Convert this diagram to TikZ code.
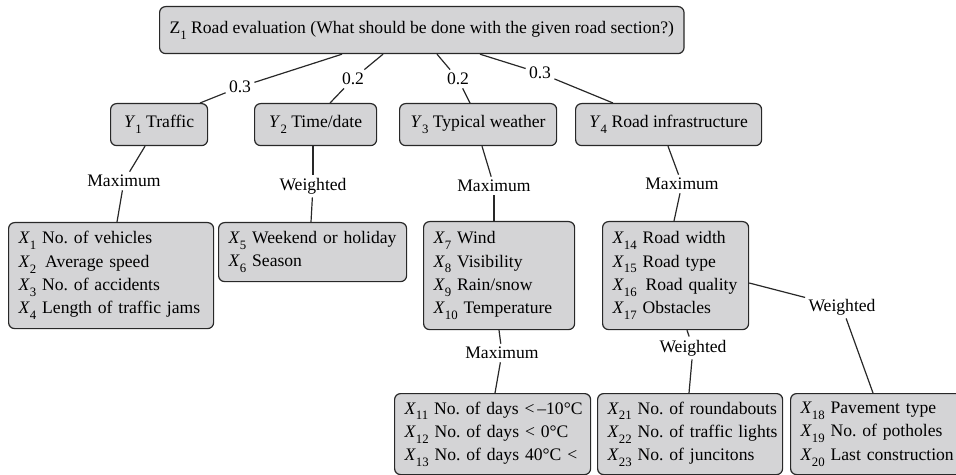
\documentclass[tikz,border=0pt]{standalone}
\usepackage{fontspec}
\setmainfont{Liberation Serif}
\usetikzlibrary{calc}
\definecolor{boxfill}{RGB}{212,212,214}
\definecolor{linec}{RGB}{40,40,40}
\newcommand\sbx[2]{\textit{#1}\raisebox{-2.9pt}{\fontsize{6.4}{7}\selectfont #2}}
\newcommand\xrow[2]{\mbox{\sbx{X}{#1} #2}}
\frenchspacing
\begin{document}
\begin{tikzpicture}[x=0.5pt,y=-0.5pt, font=\fontsize{8.8}{11.65}\selectfont,
  box/.style={draw=linec, fill=boxfill, line width=0.6pt, rounded corners=3pt, inner xsep=5pt, inner ysep=0pt, anchor=north west},
  xbox/.style={box, align=left},
  lbl/.style={inner sep=1.5pt},
  conn/.style={draw=linec, line width=0.6pt}]
\useasboundingbox (0,0) rectangle (956,475);
\clip (0,0) rectangle (956,475);
% top
\node[box, minimum width=261.5pt, minimum height=23.5pt] (z1) at (159,6)
  {Z\raisebox{-2.9pt}{\fontsize{6.4}{7}\selectfont 1} Road evaluation (What should be done with the given road section?)};
% level Y
\node[box, minimum width=48.5pt, minimum height=21pt] (y1) at (110,103) {\sbx{Y}{1} Traffic};
\node[box, minimum width=61pt, minimum height=21pt] (y2) at (254,103) {\sbx{Y}{2} Time/date};
\node[box, minimum width=78.5pt, minimum height=21pt] (y3) at (399,103) {\sbx{Y}{3} Typical weather};
\node[box, minimum width=93pt, minimum height=21pt] (y4) at (575,103) {\sbx{Y}{4} Road infrastructure};
% level X (middle)
\node[xbox, minimum width=102.5pt, text width=92.5pt, minimum height=53pt] (x1) at (8,222)
  {\xrow{1}{No. of vehicles}\\ \xrow{2}{\,Average speed}\\ \xrow{3}{No. of accidents}\\ \xrow{4}{Length of traffic jams}};
\node[xbox, minimum width=94pt, text width=84pt, minimum height=29.5pt] (x5) at (218,222)
  {\xrow{5}{Weekend or holiday}\\ \xrow{6}{Season}};
\node[xbox, minimum width=75.5pt, text width=65.5pt, minimum height=54pt] (x7) at (423,221)
  {\xrow{7}{Wind}\\ \xrow{8}{Visibility}\\ \xrow{9}{Rain/snow}\\ \xrow{10}{Temperature}};
\node[xbox, minimum width=73pt, text width=63pt, minimum height=54pt] (x14) at (602,221)
  {\xrow{14}{Road width}\\ \xrow{15}{Road type}\\ \xrow{16}{\,Road quality}\\ \xrow{17}{Obstacles}};
% level X (bottom)
\node[xbox, minimum width=98pt, text width=88pt, minimum height=40.5pt] (x11) at (394,393)
  {\xrow{11}{No. of days <\,–10°C}\\ \xrow{12}{No. of days < 0°C}\\ \xrow{13}{No. of days 40°C <}};
\node[xbox, minimum width=92.5pt, text width=82.5pt, minimum height=40.5pt] (x21) at (597,393)
  {\xrow{21}{No. of roundabouts}\\ \xrow{22}{No. of traffic lights}\\ \xrow{23}{No. of juncitons}};
\node[xbox, minimum width=95pt, text width=85pt, minimum height=40.5pt] (x18) at (790,393)
  {\xrow{18}{Pavement type}\\ \xrow{19}{No. of potholes}\\ \xrow{20}{Last construction}};
% labels
\node[lbl] (w1) at (240,87) {0.3};
\node[lbl] (w2) at (353,79) {0.2};
\node[lbl] (w3) at (458,79) {0.2};
\node[lbl] (w4) at (540,73) {0.3};
\node[lbl] (m1) at (124,181) {Maximum};
\node[lbl] (m2) at (313,186) {Weighted};
\node[lbl] (m3) at (494,186) {Maximum};
\node[lbl] (m4) at (682,184) {Maximum};
\node[lbl] (m5) at (502,353) {Maximum};
\node[lbl] (m6) at (693,348) {Weighted};
\node[lbl] (m7) at (842,307) {Weighted};
% connectors
\draw[conn] ($(z1.south west)+(183,0)$) -- (w1);
\draw[conn] (w1) -- ($(y1.north west)+(90,0)$);
\draw[conn] ($(z1.south west)+(224,0)$) -- (w2);
\draw[conn] (w2) -- ($(y2.north west)+(76,0)$);
\draw[conn] ($(z1.south west)+(278,0)$) -- (w3);
\draw[conn] (w3) -- ($(y3.north west)+(71,0)$);
\draw[conn] ($(z1.south west)+(321,0)$) -- (w4);
\draw[conn] (w4) -- ($(y4.north west)+(38,0)$);
\draw[conn] ($(y1.south west)+(35,0)$) -- (m1);
\draw[conn] (m1) -- ($(x1.north west)+(109,0)$);
\draw[conn] ($(y2.south west)+(59,0)$) -- (m2);
\draw[conn] (m2) -- ($(x5.north west)+(93,0)$);
\draw[conn] ($(y3.south west)+(83,0)$) -- (m3);
\draw[conn] (m3) -- ($(x7.north west)+(71,0)$);
\draw[conn] ($(y4.south west)+(93,0)$) -- (m4);
\draw[conn] (m4) -- ($(x14.north west)+(72,0)$);
\draw[conn] ($(x7.south west)+(76,0)$) -- (m5);
\draw[conn] (m5) -- ($(x11.north west)+(101,0)$);
\draw[conn] ($(x14.south west)+(85,0)$) -- (m6);
\draw[conn] (m6) -- ($(x21.north west)+(92,0)$);
\draw[conn] ($(x14.north east)+(0,62)$) -- (m7);
\draw[conn] (m7) -- ($(x18.north west)+(83,0)$);
\end{tikzpicture}
\end{document}
